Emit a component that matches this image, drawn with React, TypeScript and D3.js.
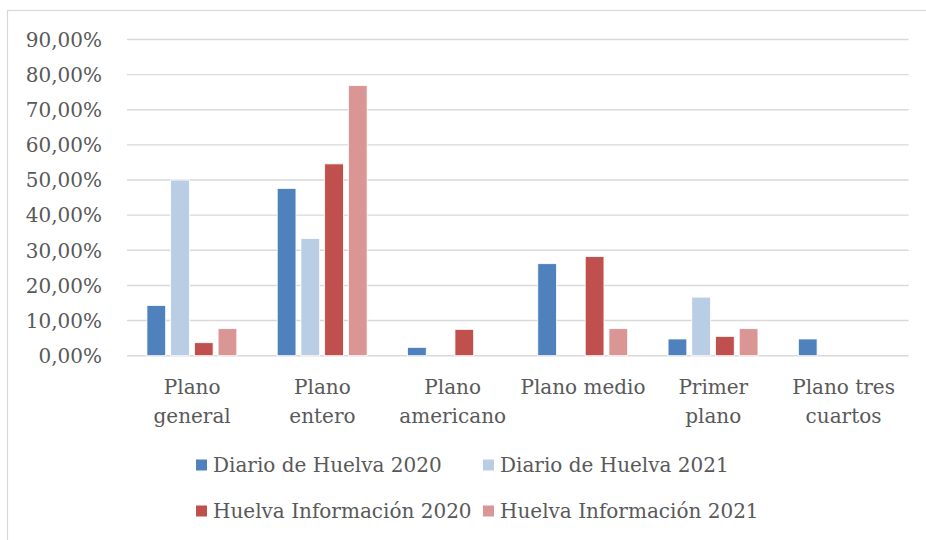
import React from "react"
import * as d3 from "d3"

const categories = [
  ["Plano", "general"],
  ["Plano", "entero"],
  ["Plano", "americano"],
  ["Plano medio"],
  ["Primer", "plano"],
  ["Plano tres", "cuartos"],
]

const seriesNames = [
  "Diario de Huelva 2020",
  "Diario de Huelva 2021",
  "Huelva Información 2020",
  "Huelva Información 2021",
]

const diario2020 = [14.29, 47.62, 2.38, 26.19, 4.76, 4.76]
const diario2021 = [50.0, 33.33, 0, 0, 16.67, 0]
const huelvaInfo2020 = [3.7, 54.6, 7.5, 28.2, 5.5, 0]
const huelvaInfo2021 = [7.69, 76.92, 0, 7.69, 7.69, 0]

const yTicks = [0, 10, 20, 30, 40, 50, 60, 70, 80, 90]

const colors = ["#4F81BD", "#B9CDE5", "#C0504D", "#D99694"]

const W = 926
const H = 540
const font = "'DejaVu Serif', serif"
const textColor = "#595959"

export default function App() {
  const series = [diario2020, diario2021, huelvaInfo2020, huelvaInfo2021]
  const catIdx = categories.map((_, i) => i)

  const x0 = d3.scaleBand<number>().domain(catIdx).range([127, 908.7]).padding(0)
  const bw = x0.bandwidth()
  const x1 = d3
    .scaleBand<number>()
    .domain(series.map((_, i) => i))
    .range([bw * 0.153, bw * 0.843])
    .paddingInner(0.21)
    .paddingOuter(0)
  const y = d3.scaleLinear().domain([0, 90]).range([355.7, 39.5])

  const fmt = (v: number) => v.toFixed(2).replace(".", ",") + "%"

  // legend layout
  const legendX = 196
  const legendY = 465
  const colW = 287
  const rowH = 46
  const sq = 11

  return (
    <svg
      width={W}
      height={H}
      style={{ position: "absolute", left: 0, top: 0, background: "#fff" }}
      fontFamily={font}
    >
      <rect x={7.5} y={10.5} width={W + 10} height={H + 10} fill="#fff" stroke="#D9D9D9" strokeWidth={1.2} />

      {/* gridlines */}
      {yTicks.map((t) => (
        <line key={t} x1={127} x2={908.7} y1={y(t)} y2={y(t)} stroke="#D9D9D9" strokeWidth={1.4} />
      ))}

      {/* y tick labels */}
      {yTicks.map((t) => (
        <text
          key={t}
          x={102}
          y={y(t)}
          dy="0.36em"
          textAnchor="end"
          fontSize={20}
          fill={textColor}
        >
          {fmt(t)}
        </text>
      ))}

      {/* bars */}
      {series.map((vals, si) =>
        vals.map((v, ci) =>
          v > 0 ? (
            <rect
              key={`${si}-${ci}`}
              x={(x0(ci) ?? 0) + (x1(si) ?? 0)}
              y={y(v)}
              width={x1.bandwidth()}
              height={y(0) - y(v)}
              fill={colors[si]}
              stroke="#fff"
              strokeWidth={0.8}
            />
          ) : null,
        ),
      )}

      {/* category labels */}
      {categories.map((lines, ci) => (
        <text
          key={ci}
          x={(x0(ci) ?? 0) + bw / 2}
          y={394}
          textAnchor="middle"
          fontSize={20}
          fill={textColor}
        >
          {lines.map((l, li) => (
            <tspan key={li} x={(x0(ci) ?? 0) + bw / 2} dy={li === 0 ? 0 : 28.5}>
              {l}
            </tspan>
          ))}
        </text>
      ))}

      {/* legend */}
      {seriesNames.map((name, i) => {
        const lx = legendX + (i % 2) * colW
        const ly = legendY + Math.floor(i / 2) * rowH
        return (
          <g key={name}>
            <rect x={lx} y={ly - sq / 2} width={sq} height={sq} fill={colors[i]} />
            <text x={lx + 17} y={ly} dy="0.36em" fontSize={20} fill={textColor}>
              {name}
            </text>
          </g>
        )
      })}
    </svg>
  )
}
